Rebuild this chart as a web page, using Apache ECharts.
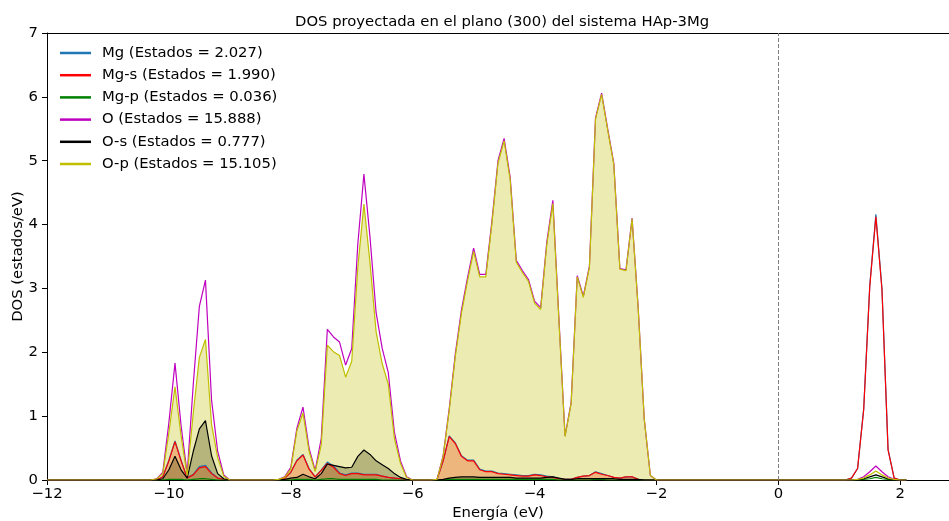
<!DOCTYPE html>
<html>
<head>
<meta charset="utf-8">
<script src="https://cdn.jsdelivr.net/npm/echarts@6/dist/echarts.min.js"></script>
<style>
  html, body { margin: 0; padding: 0; background: #ffffff; }
  #chart { width: 949px; height: 521px; }
</style>
</head>
<body>
<div id="chart"></div>
<script>
// Energy grid (eV), one row per band
const energy = [
  -12.0,
  -10.3, -10.2, -10.1, -10.0, -9.9, -9.8, -9.7, -9.6, -9.5, -9.4, -9.3, -9.2, -9.1, -9.0,
  -8.3, -8.2, -8.1, -8.0, -7.9, -7.8, -7.7, -7.6, -7.5, -7.4, -7.3, -7.2, -7.1, -7.0, -6.9, -6.8, -6.7, -6.6, -6.5, -6.4, -6.3, -6.2, -6.1, -6.0,
  -5.7, -5.6, -5.5, -5.4, -5.3, -5.2, -5.1, -5.0, -4.9, -4.8, -4.7, -4.6, -4.5, -4.4, -4.3, -4.2, -4.1, -4.0, -3.9, -3.8, -3.7, -3.6, -3.5, -3.4, -3.3, -3.2, -3.1, -3.0, -2.9, -2.8, -2.7, -2.6, -2.5, -2.4, -2.3, -2.2, -2.1, -2.0,
  1.1, 1.2, 1.3, 1.4, 1.5, 1.6, 1.7, 1.8, 1.9, 2.0, 2.1
];

// Projected DOS (estados/eV) on the energy grid above
const dosMg = [
  0,
  0, 0, 0.05, 0.31, 0.61, 0.31, 0.03, 0.09, 0.21, 0.23, 0.11, 0.03, 0.01, 0,
  0, 0, 0.03, 0.12, 0.31, 0.40, 0.18, 0.05, 0.16, 0.28, 0.22, 0.11, 0.08, 0.11, 0.11, 0.09, 0.09, 0.09, 0.06, 0.04, 0.03, 0.02, 0, 0,
  0, 0.01, 0.30, 0.69, 0.58, 0.38, 0.31, 0.31, 0.17, 0.14, 0.14, 0.11, 0.10, 0.09, 0.08, 0.07, 0.07, 0.09, 0.08, 0.06, 0.05, 0.02, 0.01, 0.01, 0.04, 0.06, 0.07, 0.13, 0.10, 0.07, 0.04, 0.03, 0.05, 0.05, 0.01, 0, 0, 0,
  0, 0.03, 0.18, 1.11, 3.05, 4.16, 3.00, 0.48, 0.03, 0, 0
];
const dosMgS = [
  0,
  0, 0, 0.05, 0.30, 0.60, 0.30, 0.03, 0.08, 0.19, 0.21, 0.10, 0.03, 0.01, 0,
  0, 0, 0.03, 0.12, 0.30, 0.39, 0.17, 0.05, 0.15, 0.26, 0.20, 0.10, 0.07, 0.10, 0.10, 0.08, 0.08, 0.08, 0.06, 0.04, 0.03, 0.02, 0, 0,
  0, 0.01, 0.30, 0.68, 0.57, 0.37, 0.30, 0.30, 0.16, 0.13, 0.13, 0.10, 0.09, 0.08, 0.07, 0.06, 0.06, 0.08, 0.07, 0.05, 0.04, 0.02, 0.01, 0.01, 0.04, 0.06, 0.07, 0.12, 0.09, 0.07, 0.04, 0.03, 0.05, 0.05, 0.01, 0, 0, 0,
  0, 0.03, 0.18, 1.10, 3.03, 4.12, 2.98, 0.47, 0.03, 0, 0
];
const dosMgP = [
  0,
  0, 0, 0, 0.01, 0.01, 0.01, 0, 0.01, 0.02, 0.02, 0.01, 0, 0, 0,
  0, 0, 0, 0, 0.01, 0.01, 0.01, 0, 0.01, 0.02, 0.02, 0.01, 0.01, 0.01, 0.01, 0.01, 0.01, 0.01, 0, 0, 0, 0, 0, 0,
  0, 0, 0, 0.01, 0.01, 0.01, 0.01, 0.01, 0.01, 0.01, 0.01, 0.01, 0.01, 0.01, 0.01, 0.01, 0.01, 0.01, 0.01, 0.01, 0.01, 0, 0, 0, 0, 0, 0, 0.01, 0.01, 0, 0, 0, 0, 0, 0, 0, 0, 0,
  0, 0, 0, 0.01, 0.02, 0.04, 0.02, 0.01, 0, 0, 0
];
const dosO = [
  0,
  0, 0.02, 0.12, 0.90, 1.83, 0.85, 0.10, 1.50, 2.72, 3.13, 1.25, 0.45, 0.08, 0,
  0, 0.01, 0.05, 0.20, 0.81, 1.14, 0.50, 0.15, 0.65, 2.36, 2.24, 2.16, 1.80, 2.06, 3.70, 4.79, 3.80, 2.62, 2.06, 1.68, 0.75, 0.30, 0.05, 0,
  0, 0.01, 0.38, 1.12, 1.98, 2.66, 3.17, 3.63, 3.22, 3.22, 4.05, 5.00, 5.35, 4.74, 3.44, 3.28, 3.14, 2.80, 2.70, 3.72, 4.38, 2.52, 0.69, 1.21, 3.20, 2.88, 3.35, 5.67, 6.06, 5.50, 4.96, 3.31, 3.29, 4.10, 2.70, 0.95, 0.07, 0,
  0, 0, 0.01, 0.05, 0.13, 0.22, 0.13, 0.05, 0.01, 0, 0
];
const dosOS = [
  0,
  0, 0, 0.02, 0.16, 0.37, 0.16, 0.03, 0.45, 0.80, 0.93, 0.38, 0.10, 0.02, 0,
  0, 0, 0.01, 0.03, 0.04, 0.09, 0.05, 0.02, 0.10, 0.25, 0.23, 0.21, 0.19, 0.20, 0.37, 0.47, 0.40, 0.30, 0.24, 0.18, 0.10, 0.04, 0.01, 0,
  0, 0, 0.01, 0.03, 0.04, 0.05, 0.05, 0.05, 0.04, 0.04, 0.04, 0.04, 0.04, 0.04, 0.03, 0.03, 0.03, 0.03, 0.03, 0.04, 0.05, 0.03, 0.01, 0.01, 0.02, 0.02, 0.02, 0.02, 0.02, 0.02, 0.02, 0.01, 0.01, 0.01, 0.01, 0, 0, 0,
  0, 0, 0, 0.02, 0.05, 0.08, 0.05, 0.02, 0, 0, 0
];
const dosOP = [
  0,
  0, 0.02, 0.10, 0.74, 1.46, 0.69, 0.07, 1.05, 1.92, 2.20, 0.87, 0.35, 0.06, 0,
  0, 0.01, 0.04, 0.17, 0.77, 1.05, 0.45, 0.13, 0.55, 2.11, 2.01, 1.95, 1.61, 1.86, 3.33, 4.32, 3.40, 2.32, 1.82, 1.50, 0.65, 0.26, 0.04, 0,
  0, 0.01, 0.37, 1.09, 1.94, 2.61, 3.12, 3.58, 3.18, 3.18, 4.01, 4.96, 5.31, 4.70, 3.41, 3.25, 3.11, 2.77, 2.67, 3.68, 4.33, 2.49, 0.68, 1.20, 3.18, 2.86, 3.33, 5.65, 6.04, 5.48, 4.94, 3.30, 3.28, 4.09, 2.69, 0.95, 0.07, 0,
  0, 0, 0.01, 0.03, 0.08, 0.14, 0.08, 0.03, 0.01, 0, 0
];

const legendLabels = [
  'Mg (Estados = 2.027)',
  'Mg-s (Estados = 1.990)',
  'Mg-p (Estados = 0.036)',
  'O (Estados = 15.888)',
  'O-s (Estados = 0.777)',
  'O-p (Estados = 15.105)'
];

const xTicks = { min: -12, max: 2.8, step: 2 };
const yTicks = { min: 0, max: 7, step: 1 };
const fermiLevel = 0;

const FONT = 'DejaVu Sans';
const FS = 14.8;

const curves = [
  { label: legendLabels[0], values: dosMg,  color: '#1f77b4', filled: false },
  { label: legendLabels[1], values: dosMgS, color: '#ff0000', filled: true },
  { label: legendLabels[2], values: dosMgP, color: '#008000', filled: true },
  { label: legendLabels[3], values: dosO,   color: '#bf00bf', filled: false },
  { label: legendLabels[4], values: dosOS,  color: '#000000', filled: true },
  { label: legendLabels[5], values: dosOP,  color: '#bfbf00', filled: true }
];

const toPoints = vals => energy.map((e, i) => [e, vals[i]]);
// occupied states only (E <= Fermi level) get shaded
const toOccupied = vals => energy.map((e, i) => [e, vals[i]]).filter(p => p[0] <= fermiLevel);

const fillSeries = curves.filter(c => c.filled).map(c => ({
  name: 'relleno ' + c.label,
  type: 'line',
  data: toOccupied(c.values),
  showSymbol: false,
  silent: true,
  lineStyle: { width: 0, opacity: 0 },
  itemStyle: { color: c.color },
  areaStyle: { color: c.color, opacity: 0.3, origin: 'start' },
  z: 1
}));

const lineSeries = curves.map((c, idx) => ({
  name: c.label,
  type: 'line',
  data: toPoints(c.values),
  showSymbol: false,
  lineStyle: { color: c.color, width: 1.2 },
  itemStyle: { color: c.color },
  z: 3,
  markLine: idx === curves.length - 1 ? {
    silent: true,
    symbol: ['none', 'none'],
    label: { show: false },
    lineStyle: { type: [4, 2], color: '#808080', width: 1 },
    data: [{ xAxis: fermiLevel }]
  } : undefined
}));

const fmtMinus = v => (v < 0 ? '\u2212' + Math.abs(v) : String(v));

const chart = echarts.init(document.getElementById('chart'), null, { renderer: 'canvas' });
chart.setOption({
  animation: false,
  backgroundColor: '#ffffff',
  title: {
    text: 'DOS proyectada en el plano (300) del sistema HAp-3Mg',
    left: 295,
    top: 15,
    padding: 0,
    textStyle: { fontFamily: FONT, fontSize: FS, fontWeight: 'normal', color: '#000' }
  },
  legend: {
    data: legendLabels.map(n => ({ name: n, icon: 'rect' })),
    orient: 'vertical',
    left: 60,
    top: 42,
    padding: 0,
    itemWidth: 31,
    itemHeight: 2.5,
    itemGap: 0.2,
    selectedMode: false,
    textStyle: { fontFamily: FONT, fontSize: FS, color: '#000', lineHeight: 22, padding: [0, 0, 0, 6] }
  },
  grid: { left: 47, top: 33, right: 0, bottom: 41, containLabel: false, outerBoundsMode: 'none' },
  xAxis: [{
    type: 'value',
    min: xTicks.min, max: xTicks.max, interval: xTicks.step,
    name: 'Energía (eV)',
    nameLocation: 'middle',
    nameGap: 26,
    nameMoveOverlap: false,
    nameTextStyle: { fontFamily: FONT, fontSize: FS, color: '#000' },
    axisLine: { show: true, onZero: false, lineStyle: { color: '#000', width: 1 } },
    axisTick: { show: true, inside: false, length: 5, lineStyle: { color: '#000', width: 1 } },
    axisLabel: { fontFamily: FONT, fontSize: FS, color: '#000', margin: 7, formatter: fmtMinus, showMaxLabel: false },
    splitLine: { show: false }
  }, {
    type: 'value',
    position: 'top',
    min: xTicks.min, max: xTicks.max,
    axisLine: { show: true, onZero: false, lineStyle: { color: '#000', width: 1 } },
    axisTick: { show: false },
    axisLabel: { show: false },
    splitLine: { show: false }
  }],
  yAxis: {
    type: 'value',
    min: yTicks.min, max: yTicks.max, interval: yTicks.step,
    name: 'DOS (estados/eV)',
    nameLocation: 'middle',
    nameGap: 21,
    nameMoveOverlap: false,
    nameTextStyle: { fontFamily: FONT, fontSize: FS, color: '#000' },
    axisLine: { show: true, onZero: false, lineStyle: { color: '#000', width: 1 } },
    axisTick: { show: true, inside: false, length: 5, lineStyle: { color: '#000', width: 1 } },
    axisLabel: { fontFamily: FONT, fontSize: FS, color: '#000', margin: 9 },
    splitLine: { show: false }
  },
  series: fillSeries.concat(lineSeries)
});
</script>
</body>
</html>
